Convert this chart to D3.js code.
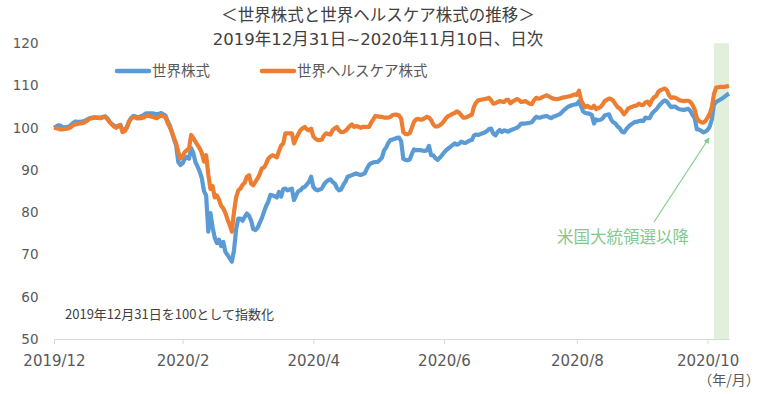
<!DOCTYPE html>
<html>
<head>
<meta charset="utf-8">
<script src="https://cdn.jsdelivr.net/npm/d3@7"></script>
<style>
	body { margin: 0; background: #fff; }
	svg { font-family: "Noto Sans CJK JP", "Noto Sans", sans-serif; }
</style>
</head>
<body>
<svg id="chart" width="759" height="394"></svg>
<script>
// 日次データ（2019/12/31 = 100）
var startDate = "2019-12-31";
var endDate = "2020-11-10";
var electionDate = "2020-11-03";

var seriesNames = ["世界株式", "世界ヘルスケア株式"];

// 世界株式
var worldEquity = [
	100.0,100.3,100.6,100.5,100.2,100.1,100.2,100.3,100.7,101.2,
	101.5,101.4,101.4,101.5,101.6,101.8,102.1,102.3,102.4,102.5,
	102.4,102.4,102.4,102.6,102.7,102.2,101.4,100.9,100.5,100.2,
	100.5,100.7,99.3,99.4,100.2,101.5,102.3,102.8,102.7,102.5,
	102.6,102.8,103.1,103.4,103.4,103.4,103.4,103.3,103.2,103.3,
	103.5,103.2,102.9,101.6,100.6,99.0,97.3,95.8,91.9,91.2,
	91.6,92.6,93.1,92.7,95.2,94.0,91.9,90.8,89.6,88.0,
	85.0,84.0,75.4,79.8,76.5,74.0,72.7,73.5,72.0,73.0,
	70.6,69.9,69.1,68.3,71.0,76.0,78.5,78.5,78.0,78.9,
	79.7,79.2,78.0,76.0,75.8,76.3,77.5,78.6,80.1,81.5,
	82.5,84.1,84.0,83.8,83.5,84.8,83.7,85.5,85.6,85.2,
	85.4,85.6,82.9,84.0,85.0,85.2,85.8,86.0,86.6,87.2,
	88.4,86.0,85.4,85.2,85.4,85.6,86.6,87.2,87.6,87.8,
	87.2,86.8,85.8,85.2,85.4,86.5,87.2,88.4,88.6,88.8,
	89.0,89.2,89.0,88.8,89.0,89.2,90.3,91.2,91.6,91.8,
	91.9,91.9,92.4,92.9,94.6,95.3,96.4,97.1,97.2,97.4,
	97.6,97.7,96.8,92.7,92.4,92.3,92.5,93.8,94.9,94.7,
	94.7,94.7,94.6,94.5,94.7,95.7,93.5,93.5,92.8,92.4,
	92.9,93.5,94.1,94.7,95.1,95.5,95.9,96.3,96.0,96.2,
	96.7,96.5,96.4,96.7,97.0,97.1,98.2,98.4,98.3,98.5,
	98.7,98.9,99.2,99.7,99.8,98.6,98.2,99.0,99.5,99.0,
	99.4,99.2,99.1,99.4,99.6,99.8,100.0,100.4,101.0,101.0,
	101.0,101.1,101.2,101.3,102.0,102.6,102.4,102.4,102.6,102.7,
	102.8,102.5,102.3,102.6,102.8,103.0,103.2,103.7,104.2,104.6,
	105.0,105.2,105.4,105.5,105.6,106.3,105.0,103.8,103.5,103.4,
	103.3,103.0,101.0,102.0,101.8,101.9,102.2,102.9,103.1,103.2,
	101.9,101.3,101.0,100.3,99.9,99.1,98.9,99.6,100.2,100.7,
	101.0,101.4,101.4,101.6,101.7,101.6,102.4,102.3,102.3,103.3,
	103.9,104.3,105.0,105.6,106.1,106.5,106.2,105.5,104.9,105.0,
	105.0,104.6,104.4,104.3,104.2,104.4,104.5,104.0,103.0,102.3,
	99.6,99.6,99.3,98.9,99.1,99.5,100.3,102.0,105.5,106.1,
	106.4,106.7,107.0,107.4,107.8,108.1
];

// 世界ヘルスケア株式
var worldHealthcare = [
	100.0,99.9,99.8,99.6,99.6,99.7,99.8,99.9,100.2,100.6,
	100.8,100.9,101.0,101.1,101.2,101.5,101.9,102.2,102.3,102.4,
	102.4,102.3,102.3,102.5,102.6,102.0,101.3,100.8,100.3,100.0,
	100.4,100.6,99.0,99.2,100.0,101.4,102.2,102.6,102.4,102.2,
	102.3,102.3,102.5,102.8,102.8,102.7,102.6,102.4,102.3,102.6,
	103.0,102.7,102.5,101.2,100.2,99.0,97.6,96.3,94.3,92.7,
	93.2,94.2,94.7,95.1,98.3,97.6,96.7,95.9,95.1,94.0,
	92.0,93.5,89.0,85.5,86.2,83.5,84.0,83.0,81.5,80.9,
	79.8,78.3,77.0,75.4,80.1,83.5,85.2,85.6,86.5,87.0,
	88.4,88.8,86.8,86.4,87.2,88.0,89.0,90.4,90.6,91.5,
	92.7,93.2,93.5,93.3,93.0,94.5,95.8,96.3,98.7,98.7,
	98.7,98.7,96.3,97.5,98.5,99.4,99.9,100.2,99.6,99.4,
	99.8,98.0,97.4,97.1,97.1,97.2,98.2,98.7,98.5,98.4,
	99.4,99.9,100.2,99.4,99.0,99.0,99.3,99.8,100.4,100.8,
	100.2,100.4,100.3,100.0,100.2,100.2,100.2,100.2,101.2,102.0,
	102.8,102.7,102.6,102.6,102.4,102.4,102.4,102.6,103.0,103.1,
	103.1,102.9,102.2,99.0,98.5,98.5,98.7,100.0,101.4,102.0,
	102.1,101.9,102.0,102.3,102.6,102.4,101.8,100.8,100.3,100.3,
	100.6,101.0,101.6,102.3,102.8,103.0,103.3,103.5,103.9,103.6,
	103.0,102.4,102.4,102.6,102.9,103.1,105.0,106.0,106.5,106.6,
	106.7,106.8,106.9,107.1,106.5,105.7,105.8,106.1,106.3,106.2,
	106.1,106.6,106.6,105.8,106.2,106.5,106.8,106.6,106.1,106.2,
	106.3,106.0,105.7,105.6,106.5,107.1,106.9,107.0,107.3,107.5,
	107.7,107.4,107.1,106.9,106.8,106.8,106.9,107.1,107.2,107.3,
	107.4,107.5,107.7,107.9,107.8,108.8,106.5,105.5,104.9,105.2,
	104.8,104.7,105.2,104.4,104.7,104.9,105.5,106.3,106.6,106.9,
	106.8,106.4,105.6,104.9,104.6,103.9,103.2,103.8,104.6,104.8,
	105.0,105.2,105.3,105.7,105.4,105.4,106.0,106.2,105.4,106.5,
	107.2,107.5,108.5,108.9,109.1,109.3,108.9,107.7,107.1,107.2,
	107.1,106.8,106.5,106.4,106.3,106.4,106.4,106.1,105.4,104.3,
	102.3,101.6,101.3,101.2,101.6,102.4,103.3,104.9,108.0,109.5,
	109.6,109.7,109.7,109.7,109.8,109.9
];

var yTicks = [50, 60, 70, 80, 90, 100, 110, 120];
var xTickDates = ["2019-12-31", "2020-02-29", "2020-04-30", "2020-06-30", "2020-08-31", "2020-10-31"];
var xTickLabels = ["2019/12", "2020/2", "2020/4", "2020/6", "2020/8", "2020/10"];

var titleLines = ["＜世界株式と世界ヘルスケア株式の推移＞", "2019年12月31日~2020年11月10日、日次"];
var noteText = "2019年12月31日を100として指数化";
var electionText = "米国大統領選以降";
var unitText = "（年/月）";

var numFont = "\"DejaVu Sans\", \"Noto Sans CJK JP\", sans-serif";

var parse = d3.timeParse("%Y-%m-%d");
var dates = d3.timeDay.range(parse(startDate), d3.timeDay.offset(parse(endDate), 1));

var svg = d3.select("#chart");

var x = d3.scaleTime()
	.domain([parse(startDate), parse(endDate)])
	.range([54, 729]);

var y = d3.scaleLinear()
	.domain([50, 120])
	.range([339, 43.3]);

// 選挙後の網掛け
svg.append("rect")
	.attr("x", x(parse(electionDate)))
	.attr("y", y(120))
	.attr("width", x(parse(endDate)) - x(parse(electionDate)))
	.attr("height", y(50) - y(120))
	.attr("fill", "#e2efda");

// 縦軸ラベル
svg.append("g")
	.selectAll("text")
	.data(yTicks)
	.enter()
	.append("text")
	.attr("x", 38.5)
	.attr("y", function(d){ return y(d); })
	.attr("dy", "0.36em")
	.attr("text-anchor", "end")
	.attr("font-size", "13.5px")
	.attr("font-family", numFont)
	.attr("fill", "#595959")
	.text(function(d){ return d; });

// 横軸
var xAxis = d3.axisBottom(x)
	.tickValues(xTickDates.map(parse))
	.tickFormat(function(d, i){ return xTickLabels[i]; })
	.tickSize(5)
	.tickSizeOuter(0)
	.tickPadding(11.5);

var gx = svg.append("g")
	.attr("transform", "translate(0," + y(50) + ")")
	.call(xAxis);
gx.select(".domain").attr("stroke", "#d9d9d9");
gx.selectAll(".tick line").attr("stroke", "#d9d9d9");
gx.selectAll(".tick text")
	.attr("font-size", "15px")
	.attr("font-family", numFont)
	.attr("fill", "#595959");

svg.append("text")
	.attr("x", 729)
	.attr("y", 385)
	.attr("text-anchor", "middle")
	.attr("font-size", "14px")
	.attr("fill", "#595959")
	.text(unitText);

// 折れ線
var series = [
	{ name: seriesNames[0], values: worldEquity, color: "#5b9bd5" },
	{ name: seriesNames[1], values: worldHealthcare, color: "#ed7d31" }
];

var line = d3.line()
	.x(function(d, i){ return x(dates[i]); })
	.y(function(d){ return y(d); });

svg.append("g")
	.selectAll("path")
	.data(series)
	.enter()
	.append("path")
	.attr("d", function(s){ return line(s.values); })
	.attr("fill", "none")
	.attr("stroke", function(s){ return s.color; })
	.attr("stroke-width", 4.2)
	.attr("stroke-linejoin", "round");

// 凡例
var legendX = [117, 262];
var legend = svg.append("g")
	.selectAll("g")
	.data(series)
	.enter()
	.append("g")
	.attr("transform", function(d, i){ return "translate(" + legendX[i] + ",71)"; });
legend.append("line")
	.attr("x1", 0).attr("x2", 32)
	.attr("stroke", function(d){ return d.color; })
	.attr("stroke-width", 4.5)
	.attr("stroke-linecap", "round");
legend.append("text")
	.attr("x", 35)
	.attr("dy", "0.35em")
	.attr("font-size", "14.5px")
	.attr("fill", "#595959")
	.text(function(d){ return d.name; });

// タイトル（2行目の数字は幅の広い字体）
var titleFonts = ["\"Noto Sans CJK JP\", sans-serif", numFont];
svg.append("g")
	.selectAll("text")
	.data(titleLines)
	.enter()
	.append("text")
	.attr("x", 378)
	.attr("y", function(d, i){ return 15.5 + i * 24; })
	.attr("dy", "0.35em")
	.attr("text-anchor", "middle")
	.attr("font-size", "16.5px")
	.attr("font-family", function(d, i){ return titleFonts[i]; })
	.attr("fill", "#404040")
	.text(function(d){ return d; });

// 注記
svg.append("text")
	.attr("x", 65)
	.attr("y", 314)
	.attr("dy", "0.35em")
	.attr("font-size", "13px")
	.attr("fill", "#404040")
	.text(noteText);

// 矢印
svg.append("defs").append("marker")
	.attr("id", "arrow")
	.attr("viewBox", "0 0 10 10")
	.attr("refX", 9).attr("refY", 5)
	.attr("markerWidth", 5).attr("markerHeight", 5)
	.attr("orient", "auto")
	.append("path")
	.attr("d", "M0,0L10,5L0,10z")
	.attr("fill", "#7fcf8c");

svg.append("line")
	.attr("x1", 654).attr("y1", 222)
	.attr("x2", 709).attr("y2", 138)
	.attr("stroke", "#7fcf8c")
	.attr("stroke-width", 1.2)
	.attr("marker-end", "url(#arrow)");

svg.append("text")
	.attr("x", 623)
	.attr("y", 237)
	.attr("dy", "0.35em")
	.attr("text-anchor", "middle")
	.attr("font-size", "16.5px")
	.attr("fill", "#7fc98e")
	.text(electionText);
</script>
</body>
</html>
